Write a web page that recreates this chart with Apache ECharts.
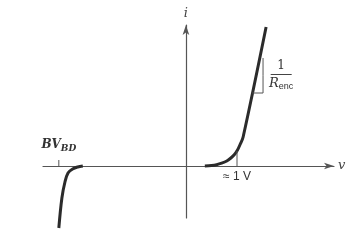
<!DOCTYPE html>
<html><head><meta charset="utf-8">
<script src="https://cdn.jsdelivr.net/npm/echarts@6/dist/echarts.min.js"></script>
<style>html,body{margin:0;padding:0;background:#fff}#c{width:354px;height:250px}</style>
</head><body><div id="c"></div>
<script>
// forward-bias characteristic (v in volts, i arbitrary units)
const fwdV = [0.37, 0.5, 0.6, 0.7, 0.8, 0.88, 0.95, 1.01, 1.06, 1.12, 1.57];
const fwdI = [0, 0.05, 0.13, 0.28, 0.5, 0.8, 1.15, 1.6, 2.15, 2.9, 13.9];
// reverse breakdown characteristic
const bdV = [-2.02, -2.12, -2.22, -2.31, -2.37, -2.43, -2.49];
const bdI = [0, -0.1, -0.3, -0.7, -1.6, -3.2, -6.2];
// marked voltages
const bvBD = -2.49;
const vOn = 1.0;
// slope triangle (1/R_enc)
const triV = [1.30, 1.51, 1.51, 1.51];
const triI = [7.3, 7.3, 9.05, 10.8];

const ink = '#2b2b2b';
const serif = "'DejaVu Serif','Liberation Serif',serif";
const sans = "'Liberation Sans','DejaVu Sans',sans-serif";
const zip = (a, b) => a.map((v, k) => [v, b[k]]);

const annot = {type: 'line', showSymbol: true, symbol: 'circle', symbolSize: 0,
  lineStyle: {color: '#555', width: 1}, emphasis: {disabled: true}};

const chart = echarts.init(document.getElementById('c'), null, {renderer: 'canvas'});
chart.setOption({
  backgroundColor: '#fff',
  animation: false,
  grid: {left: 43, right: 20, top: 25, bottom: 32},
  xAxis: {
    type: 'value', min: -2.8, max: 2.9,
    axisLine: {onZero: true, symbol: ['none', 'arrow'], symbolSize: [5, 10], lineStyle: {color: '#555', width: 1.2}},
    axisTick: {show: false}, axisLabel: {show: false}, splitLine: {show: false},
    name: 'v', nameLocation: 'end', nameGap: 4,
    nameTextStyle: {fontFamily: serif, fontStyle: 'italic', fontSize: 13, color: '#444'}
  },
  yAxis: {
    type: 'value', min: -5.2, max: 14.1,
    axisLine: {onZero: true, symbol: ['none', 'arrow'], symbolSize: [5, 10], lineStyle: {color: '#555', width: 1.2}},
    axisTick: {show: false}, axisLabel: {show: false}, splitLine: {show: false},
    name: 'i', nameLocation: 'end', nameGap: 5,
    nameTextStyle: {fontFamily: serif, fontStyle: 'italic', fontSize: 13, color: '#444', align: 'center'}
  },
  series: [
    {type: 'line', data: zip(fwdV, fwdI), smooth: 0.35, showSymbol: false, clip: false,
     lineStyle: {color: ink, width: 3}},
    {type: 'line', data: zip(bdV, bdI), smooth: 0.35, showSymbol: false, clip: false,
     lineStyle: {color: ink, width: 3}},
    Object.assign({}, annot, {data: [[bvBD, 0], {value: [bvBD, 0.6], label: {show: true}}],
     label: {show: false, position: 'top', distance: 7, formatter: '{b|BV}{s|BD}',
       rich: {b: {fontFamily: serif, fontStyle: 'italic', fontWeight: 'bold', fontSize: 12, color: '#333'},
              s: {fontFamily: serif, fontStyle: 'italic', fontWeight: 'bold', fontSize: 9, color: '#333', padding: [7, 0, 0, 0]}}}}),
    Object.assign({}, annot, {data: [{value: [vOn, 0], label: {show: true}}, [vOn, 1.5]],
     label: {show: false, position: 'bottom', distance: 5, formatter: '≈ 1 V',
       fontFamily: sans, fontSize: 12, color: '#333'}}),
    Object.assign({}, annot, {data: zip(triV, triI).map((p, k) => k === 2 ? {value: p, label: {show: true}} : p),
     label: {show: false, position: 'right', distance: 6,
       formatter: '{n|1}\n{bar|}\n{r|R}{s|enc}',
       rich: {n: {fontFamily: serif, fontSize: 12, color: '#333', width: 21, align: 'center', lineHeight: 14},
              bar: {width: 21, height: 1, backgroundColor: '#444', lineHeight: 3, align: 'center'},
              r: {fontFamily: serif, fontStyle: 'italic', fontSize: 13, color: '#333', lineHeight: 16},
              s: {fontFamily: sans, fontSize: 9, color: '#333', padding: [6, 0, 0, 0]}}}})
  ]
});
</script></body></html>
